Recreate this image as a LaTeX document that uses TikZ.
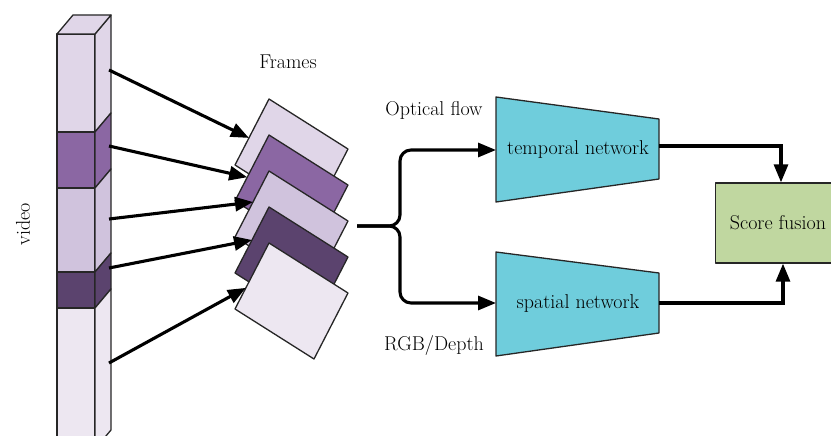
\documentclass[tikz,border=0pt]{standalone}
\usetikzlibrary{arrows.meta,calc}
\definecolor{c1}{RGB}{224,214,232}
\definecolor{c2}{RGB}{139,103,163}
\definecolor{c3}{RGB}{208,195,221}
\definecolor{c4}{RGB}{91,67,110}
\definecolor{c5}{RGB}{237,231,241}
\definecolor{netblue}{RGB}{111,205,220}
\definecolor{fusegreen}{RGB}{192,215,160}
\tikzset{
  edge/.style={draw=black!85, line width=1.3pt, line join=round},
  arr/.style={line width=3.1pt, -{Triangle[length=18pt,width=14pt]}},
  lbl/.style={font=\fontsize{20}{24}\selectfont, inner sep=0pt},
  net/.style={edge, fill=netblue},
}
\begin{document}
\begin{tikzpicture}[x=1pt,y=-1pt]
\useasboundingbox (0,0) rectangle (831,436);
\clip (0,0) rectangle (831,436);

% video stack: front face segments and side face
\foreach \ya/\yb/\col in {34/132/c1,132/188/c2,188/272/c3,272/308/c4,308/449/c5}{
  \draw[edge, fill=\col] (57,\ya) rectangle (95,\yb);
  \draw[edge, fill=\col] (95,\ya) -- (111,\ya-19) -- (111,\yb-19) -- (95,\yb) -- cycle;
}
\draw[edge, fill=c1] (57,34) -- (73,15) -- (111,15) -- (95,34) -- cycle;
\node[lbl, rotate=90] (video) at (23,224) {video};

% start points of the frame arrows
\foreach \k/\y in {1/70,2/146,3/219,4/268,5/363}{
  \coordinate (v\k) at (109,\y);
}

% frames
\node[lbl] (frames) at (288,62) {Frames};
\foreach \i/\col in {1/c1,2/c2,3/c3,4/c4,5/c5}{
  \coordinate (f\i) at (269,{99+36*(\i-1)});
  \coordinate (fl\i) at ($(f\i)+(-34,66)$);
  \draw[edge, fill=\col] (f\i) -- ++(79,50) -- ++(-34,66) -- ++(-79,-50) -- cycle;
}
\draw[arr] (v1) -- ($(f1)!0.59!(fl1)$);
\draw[arr] (v2) -- ($(f2)!0.64!(fl2)$);
\draw[arr] (v3) -- ($(f3)!0.47!(fl3)$);
\draw[arr] (v4) -- ($(f4)!0.50!(fl4)$);
\draw[arr] (v5) -- ($(f5)!0.68!(fl5)$);

% networks
\draw[net] (496,97) -- (659,119) -- (659,179) -- (496,202) -- cycle;
\draw[net] (496,252) -- (659,273) -- (659,333) -- (496,356) -- cycle;
\node[lbl] (tn) at (578,150) {temporal network};
\node[lbl] (sn) at (578,304) {spatial network};
\coordinate (tin) at (496,150);
\coordinate (sin) at (496,303);
\coordinate (tout) at (659,146);
\coordinate (sout) at (659,303);

\node[lbl] (of) at (434,110) {Optical flow};
\node[lbl] (rgb) at (434,345) {RGB/Depth};

% split brace
\coordinate (bs) at (357,226);
\draw[arr, rounded corners=11pt] (bs) -- (400,226) -- (400,150) -- (tin);
\draw[arr, rounded corners=11pt] (bs) -- (400,226) -- (400,303) -- (sin);

% fusion
\node[edge, fill=fusegreen, minimum width=125pt, minimum height=80pt, anchor=west,
      inner sep=0pt] (sf) at (715,223) {};
\node[lbl] (sft) at (778,223) {Score fusion};
\draw[arr] (tout) -| ([xshift=3pt]sf.north west -| sft.north);
\draw[arr] (sout) -| ([xshift=5pt]sf.south west -| sft.south);
\end{tikzpicture}
\end{document}
